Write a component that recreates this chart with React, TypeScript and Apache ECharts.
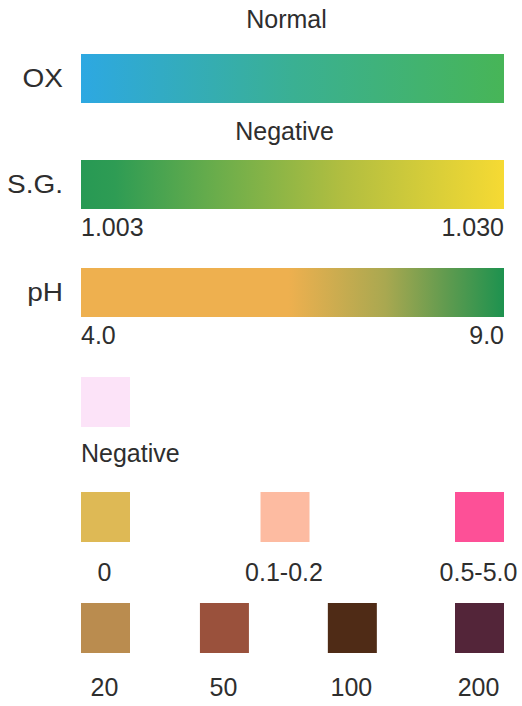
import React, { useEffect, useRef } from "react";
import * as echarts from "echarts";

// ---- data ----
const stripNames = ["OX", "S.G.", "pH"];
const stripTitles = ["Normal", "Negative", ""];
const stripMinLabels = ["", "1.003", "4.0"];
const stripMaxLabels = ["", "1.030", "9.0"];
const stripStops: [number, string][][] = [
  [[0, "#2DA8E2"], [0.5, "#3AB093"], [1, "#47B557"]],
  [[0, "#279954"], [0.08, "#2E9C54"], [0.32, "#6AAD4B"], [0.62, "#B2BE40"], [1, "#F6DA33"]],
  [[0, "#EEB04F"], [0.49, "#EEB04F"], [0.72, "#A9A850"], [0.86, "#629B4F"], [1, "#1D924F"]],
];

const swatchRows = [0, 1, 1, 1, 2, 2, 2, 2];
const swatchCols = [0, 0, 1, 2, 0, 1, 2, 3];
const swatchColors = ["#FCE3F8", "#DEB955", "#FDBBA1", "#FD5097", "#BA8C4F", "#9A513C", "#4F2B16", "#532539"];
const swatchLabels = ["Negative", "0", "0.1-0.2", "0.5-5.0", "20", "50", "100", "200"];

// ---- layout ----
const stripTops = [54, 160, 268];
const stripTitleOffsets = [35, 29.5, 0];
const stripTitleShift = [-6, -8, 0];
const barH = 49;
const rowTops = [377, 492, 603];
const rowColFracs = [[0], [0, 0.48, 1], [0, 0.318, 0.66, 1]];
const rowLabelOffsets = [76, 80, 84];
const sq = 49;
const textColor = "#2e2e2e";
const font = "Liberation Sans, Arial, Helvetica, sans-serif";

export default function App() {
  const ref = useRef<HTMLDivElement>(null);
  useEffect(() => {
    if (!ref.current) return;
    const chart = echarts.init(ref.current, undefined, { renderer: "svg" });
    const txt = (text: string, x: number, y: number, align: string, extra: any = {}) => ({
      type: "text",
      x,
      y,
      ...extra,
      style: {
        text,
        fill: textColor,
        fontSize: 25,
        fontFamily: font,
        align,
        verticalAlign: "middle",
      },
    });
    chart.setOption({
      animation: false,
      backgroundColor: "#ffffff",
      grid: { left: 81, right: 18, top: 0, bottom: 0 },
      xAxis: { type: "value", min: 0, max: 1, show: false },
      yAxis: { type: "value", min: 0, max: 706, inverse: true, show: false },
      series: [
        {
          type: "custom",
          clip: false,
          data: stripNames.map((_, i) => [0, stripTops[i]]),
          renderItem: (params: any, api: any) => {
            const i = params.dataIndex;
            const top = api.value(1);
            const p0 = api.coord([0, top]);
            const p1 = api.coord([1, top + barH]);
            const midX = (p0[0] + p1[0]) / 2;
            const children: any[] = [
              {
                type: "rect",
                shape: { x: p0[0], y: p0[1], width: p1[0] - p0[0], height: p1[1] - p0[1] },
                style: {
                  fill: new echarts.graphic.LinearGradient(
                    0, 0, 1, 0,
                    stripStops[i].map(([o, c]) => ({ offset: o, color: c }))
                  ),
                },
              },
              txt(stripNames[i], 63, (p0[1] + p1[1]) / 2, "right", { scaleX: 1.12 }),
            ];
            if (stripTitles[i]) {
              children.push(
                txt(stripTitles[i], midX + stripTitleShift[i], p0[1] - stripTitleOffsets[i], "center")
              );
            }
            if (stripMinLabels[i]) {
              children.push(txt(stripMinLabels[i], p0[0], p1[1] + 18, "left"));
              children.push(txt(stripMaxLabels[i], p1[0], p1[1] + 18, "right"));
            }
            return { type: "group", children };
          },
        },
        {
          type: "custom",
          clip: false,
          data: swatchColors.map((_, i) => [rowColFracs[swatchRows[i]][swatchCols[i]], rowTops[swatchRows[i]]]),
          renderItem: (params: any, api: any) => {
            const i = params.dataIndex;
            const r = swatchRows[i];
            const frac = api.value(0);
            const top = api.value(1);
            const a = api.coord([0, top]);
            const b = api.coord([1, top]);
            const span = b[0] - a[0] - sq;
            const x = a[0] + frac * span;
            const y = a[1];
            const children: any[] = [
              { type: "rect", shape: { x, y, width: sq, height: sq + 1 }, style: { fill: swatchColors[i] } },
            ];
            if (r === 0) {
              children.push(txt(swatchLabels[i], x, y + rowLabelOffsets[r], "left"));
            } else {
              children.push(txt(swatchLabels[i], x + sq / 2 - 1, y + rowLabelOffsets[r], "center"));
            }
            return { type: "group", children };
          },
        },
      ],
    });
    return () => chart.dispose();
  }, []);
  return (
    <div
      ref={ref}
      style={{ position: "fixed", left: 0, top: 0, width: 522, height: 706, background: "#fff" }}
    />
  );
}
